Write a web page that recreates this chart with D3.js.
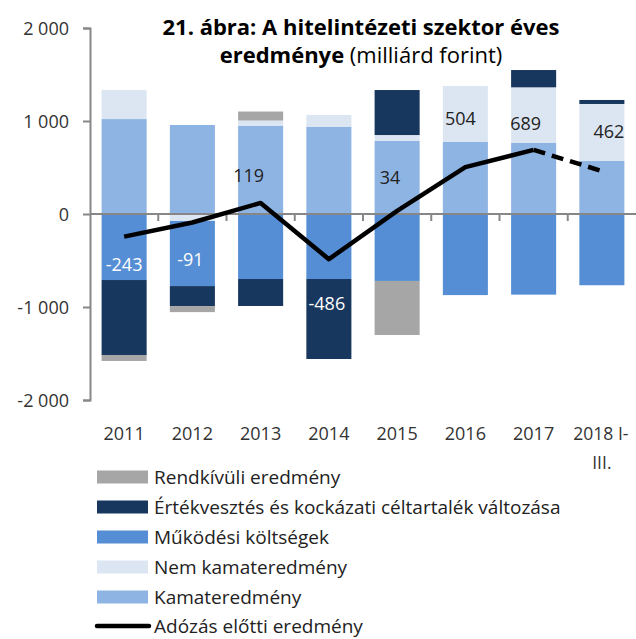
<!DOCTYPE html>
<html>
<head>
<meta charset="utf-8">
<script src="https://cdn.jsdelivr.net/npm/d3@7"></script>
<style>
  body { margin: 0; background: #fff; }
  svg text { font-family: "Open Sans", sans-serif; }
</style>
</head>
<body>
<svg id="chart" width="636" height="639"></svg>
<script>
// chart data (milliárd forint)
const years = ["2011", "2012", "2013", "2014", "2015", "2016", "2017", "2018 I-|III."];
const kamateredmeny = [1021, 957, 950, 939, 785, 778, 767, 570];
const nemKamateredmeny = [312, -75, 55, 126, 64, 598, 595, 613];
const mukodesiKoltsegek = [-710, -700, -699, -699, -720, -872, -867, -766];
const ertekvesztes = [-806, -215, -290, -860, 484, 0, 186, 43];
const rendkivuli = [-64, -65, 97, 0, -581, 0, 0, 0];
const adozasElotti = [-243, -91, 119, -486, 34, 504, 689, 462];
const yTicks = [-2000, -1000, 0, 1000, 2000];

// legend order top to bottom
const legendItems = [
  { key: "rendkivuli", name: "Rendkívüli eredmény", color: "#a6a6a6" },
  { key: "ertekvesztes", name: "Értékvesztés és kockázati céltartalék változása", color: "#17375e" },
  { key: "mukodesi", name: "Működési költségek", color: "#558ed5" },
  { key: "nemkamat", name: "Nem kamateredmény", color: "#dce6f2" },
  { key: "kamat", name: "Kamateredmény", color: "#8eb4e3" }
];
const stackKeys = ["kamat", "nemkamat", "mukodesi", "ertekvesztes", "rendkivuli"];
const color = {};
legendItems.forEach(d => color[d.key] = d.color);

// table for d3.stack
let table = years.map((y, i) => ({
  year: y,
  kamat: kamateredmeny[i],
  nemkamat: nemKamateredmeny[i],
  mukodesi: mukodesiKoltsegek[i],
  ertekvesztes: ertekvesztes[i],
  rendkivuli: rendkivuli[i]
}));

// where the profit labels sit (value units) and sideways nudge (px)
const labelAt = [-548, -495, 408, -968, 387, 1021, 968, 882];
const labelDx = [0, -2, -12, -2, -7, -5, -8, 7];
const labelWhite = [true, true, false, true, false, false, false, false];

const svg = d3.select("#chart");
const plotLeft = 90, plotRight = 636, plotTop = 28, plotBottom = 400;

let x = d3.scaleBand().domain(years).range([plotLeft, plotRight]).paddingInner(0.34).paddingOuter(0.17);
let y = d3.scaleLinear().domain([-2000, 2000]).range([plotBottom, plotTop]);

let series = d3.stack().keys(stackKeys).offset(d3.stackOffsetDiverging)(table);

// bars
svg.append("g").selectAll("g")
  .data(series)
  .join("g")
    .attr("fill", d => color[d.key])
  .selectAll("rect")
  .data(d => d)
  .join("rect")
    .attr("x", d => x(d.data.year))
    .attr("width", x.bandwidth())
    .attr("y", d => y(Math.max(d[0], d[1])))
    .attr("height", d => Math.abs(y(d[0]) - y(d[1])));

// y axis
let yAxis = svg.append("g")
  .attr("transform", "translate(" + plotLeft + ",0)")
  .call(d3.axisLeft(y).tickValues(yTicks).tickSize(7).tickPadding(14)
    .tickFormat(d => d3.format(",")(d).replace(/,/g, " ").replace("−", "-")));
yAxis.select(".domain").attr("stroke", "#878787").attr("stroke-width", 2);
yAxis.selectAll(".tick line").attr("stroke", "#878787").attr("stroke-width", 2);
yAxis.selectAll(".tick text").attr("font-size", 18).attr("fill", "#333").attr("dy", "0.35em");

// zero line with category ticks
svg.append("line")
  .attr("x1", plotLeft).attr("x2", plotRight)
  .attr("y1", y(0)).attr("y2", y(0))
  .attr("stroke", "#878787").attr("stroke-width", 2);
svg.append("g").selectAll("line")
  .data(years.slice(1))
  .join("line")
    .attr("x1", d => x(d) - x.step() * x.paddingInner() / 2)
    .attr("x2", d => x(d) - x.step() * x.paddingInner() / 2)
    .attr("y1", y(0)).attr("y2", y(0) + 7)
    .attr("stroke", "#878787").attr("stroke-width", 2);

// x labels
let xl = svg.append("g").selectAll("text")
  .data(years)
  .join("text")
    .attr("x", d => x(d) + x.bandwidth() / 2)
    .attr("y", 440)
    .attr("text-anchor", "middle")
    .attr("font-size", 18)
    .attr("fill", "#333");
xl.each(function(d) {
  let parts = d.split("|");
  let t = d3.select(this);
  parts.forEach((p, i) => {
    t.append("tspan")
      .attr("x", x(d) + x.bandwidth() / 2 - (i == 0 && parts.length > 1 ? 1 : 0))
      .attr("dy", i == 0 ? 0 : 29)
      .attr("font-size", parts.length > 1 ? 17.5 : null)
      .text(p);
  });
});

// profit line
let pts = years.map((yr, i) => [x(yr) + x.bandwidth() / 2, y(adozasElotti[i])]);
let line = d3.line();
svg.append("path")
  .attr("d", line(pts.slice(0, 7)))
  .attr("fill", "none").attr("stroke", "#000").attr("stroke-width", 4.5)
  .attr("stroke-linejoin", "round");
svg.append("path")
  .attr("d", line(pts.slice(6)))
  .attr("fill", "none").attr("stroke", "#000").attr("stroke-width", 4.5)
  .attr("stroke-dasharray", "12,7");

// profit labels
svg.append("g").selectAll("text")
  .data(adozasElotti)
  .join("text")
    .attr("x", (d, i) => x(years[i]) + x.bandwidth() / 2 + labelDx[i])
    .attr("y", (d, i) => y(labelAt[i]))
    .attr("dy", "0.35em")
    .attr("text-anchor", "middle")
    .attr("font-size", 18)
    .attr("fill", (d, i) => labelWhite[i] ? "#fff" : "#222")
    .text(d => d.toString().replace("−", "-"));

// title
let title = svg.append("g").attr("font-size", 22).attr("fill", "#000");
title.append("text")
  .attr("x", 361).attr("y", 35)
  .attr("text-anchor", "middle").attr("font-weight", "bold")
  .text("21. ábra: A hitelintézeti szektor éves");
let t2 = title.append("text").attr("x", 361).attr("y", 63).attr("text-anchor", "middle");
t2.append("tspan").attr("font-weight", "bold").text("eredménye");
t2.append("tspan").text(" (milliárd forint)");

// legend
let lg = svg.append("g");
let rowY = [477, 507, 537, 567, 597, 626];
legendItems.forEach((d, i) => {
  lg.append("rect")
    .attr("x", 97).attr("y", rowY[i] - 6.5)
    .attr("width", 51).attr("height", 13)
    .attr("fill", d.color);
  lg.append("text")
    .attr("x", 154).attr("y", rowY[i]).attr("dy", "0.35em")
    .attr("font-size", 19).attr("fill", "#222")
    .text(d.name);
});
lg.append("line")
  .attr("x1", 97).attr("x2", 149)
  .attr("y1", rowY[5]).attr("y2", rowY[5])
  .attr("stroke", "#000").attr("stroke-width", 4.5).attr("stroke-linecap", "round");
lg.append("text")
  .attr("x", 154).attr("y", rowY[5]).attr("dy", "0.35em")
  .attr("font-size", 19).attr("fill", "#222")
  .text("Adózás előtti eredmény");
</script>
</body>
</html>
